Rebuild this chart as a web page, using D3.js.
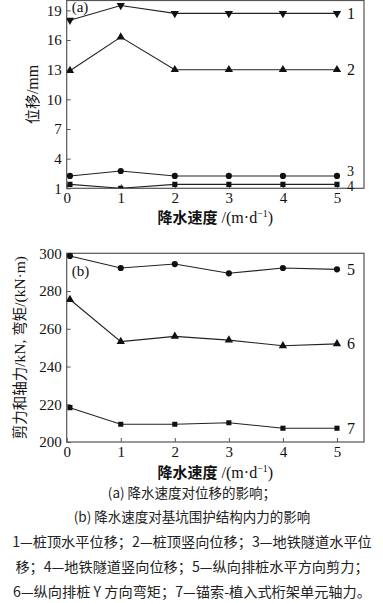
<!DOCTYPE html>
<html><head><meta charset="utf-8">
<script src="https://cdn.jsdelivr.net/npm/d3@7"></script>
<style>
body{margin:0;background:#fff;}
svg{display:block;}
</style></head>
<body><svg id="c" width="383" height="603"></svg>
<script>
// ---- data ----
const speeds = [0.06, 1, 2, 3, 4, 5];
const xTicks = [0, 1, 2, 3, 4, 5];
const yTicksA = [1, 4, 7, 10, 13, 16, 19];
const yTicksB = [200, 220, 240, 260, 280, 300];
const s1 = [18.0, 19.5, 18.7, 18.7, 18.7, 18.7];
const s2 = [12.9, 16.3, 13.0, 13.0, 13.0, 13.0];
const s3 = [2.25, 2.75, 2.25, 2.25, 2.25, 2.25];
const s4 = [1.4, 1.0, 1.4, 1.4, 1.4, 1.4];
const s5 = [298.6, 292.2, 294.3, 289.4, 292.2, 291.5];
const s6 = [275.5, 253.2, 256.0, 254.0, 251.0, 252.0];
const s7 = [218.2, 209.4, 209.4, 210.2, 207.3, 207.3];
const seriesA = [
  {id: "1", values: s1, marker: "down"},
  {id: "2", values: s2, marker: "up"},
  {id: "3", values: s3, marker: "circle"},
  {id: "4", values: s4, marker: "square"}
];
const seriesB = [
  {id: "5", values: s5, marker: "circle"},
  {id: "6", values: s6, marker: "up"},
  {id: "7", values: s7, marker: "square"}
];
const xTitleMain = "降水速度";
const yTitleA = [["位移", "cjk"], ["/mm", "serif"]];
const yTitleB = [["剪力和轴力", "cjk"], ["/kN, ", "serif"], ["弯矩", "cjk"], ["/(kN·m)", "serif"]];
const captions = [
  "(a)  降水速度对位移的影响；",
  "(b)  降水速度对基坑围护结构内力的影响",
  "1—桩顶水平位移；2—桩顶竖向位移；3—地铁隧道水平位",
  "移；4—地铁隧道竖向位移；5—纵向排桩水平方向剪力；",
  "6—纵向排桩 Y 方向弯矩；7—锚索-植入式桁架单元轴力。"
];

// ---- drawing ----
const svg = d3.select("#c");
const serif = "'Liberation Serif','DejaVu Serif',serif";
const cjk = "'Noto Sans CJK SC','Noto Sans',sans-serif";
const lineCol = "#222";

function markerPath(type) {
  if (type === "circle") return d3.symbol(d3.symbolCircle, 30)();
  if (type === "square") return d3.symbol(d3.symbolSquare, 26)();
  return d3.symbol(d3.symbolTriangle, 30)();
}

function panel(opt) {
  const {top, bottom, domain, yTicks, series, tag, ytitle, ytitleX, xtitleY, xtickY} = opt;
  const left = 66.7, right = 364;
  const x = d3.scaleLinear().domain([0, 5.5]).range([left, right]);
  const y = d3.scaleLinear().domain(domain).range([bottom, top]);
  const g = svg.append("g");

  g.append("rect").attr("x", left).attr("y", top).attr("width", right - left).attr("height", bottom - top)
    .attr("fill", "none").attr("stroke", "#555").attr("stroke-width", 1.2);

  const xa = g.append("g").attr("transform", `translate(0,${bottom})`)
    .call(d3.axisBottom(x).tickValues(xTicks).tickSize(-4).tickPadding(4).tickFormat(d3.format("d")));
  xa.select(".domain").remove();
  xa.selectAll("line").attr("stroke", "#555");
  xa.selectAll("text").attr("font-family", serif).attr("font-size", 15).attr("fill", "#111")
    .attr("y", xtickY - bottom).attr("dy", "0.35em");

  const ya = g.append("g").attr("transform", `translate(${left},0)`)
    .call(d3.axisLeft(y).tickValues(yTicks).tickSize(-4).tickPadding(5).tickFormat(d3.format("d")));
  ya.select(".domain").remove();
  ya.selectAll("line").attr("stroke", "#555");
  ya.selectAll("text").attr("font-family", serif).attr("font-size", 15).attr("fill", "#111");

  const line = d3.line().x((d, i) => x(speeds[i])).y(d => y(d));
  const clipId = "clip" + tag.replace(/\W/g, "");
  g.append("clipPath").attr("id", clipId).append("rect")
    .attr("x", left).attr("y", top - 1).attr("width", right - left).attr("height", bottom - top + 1);
  series.forEach(s => {
    const sg = g.append("g").attr("clip-path", `url(#${clipId})`);
    sg.append("path").attr("d", line(s.values)).attr("fill", "none")
      .attr("stroke", lineCol).attr("stroke-width", 1.1);
    sg.selectAll("path.m").data(s.values).join("path").attr("class", "m")
      .attr("d", markerPath(s.marker))
      .attr("transform", (d, i) => `translate(${x(speeds[i])},${y(d)})` + (s.marker === "down" ? " rotate(180)" : ""))
      .attr("fill", "#111");
    const last = s.values[s.values.length - 1];
    g.append("text").attr("x", x(5) + 10).attr("y", y(last) + (s.labelDy || 0)).attr("dy", "0.35em")
      .attr("font-family", serif).attr("font-size", s.labelSize || 16).attr("fill", "#111").text(s.id);
  });

  g.append("text").attr("x", left + 5).attr("y", opt.tagY).attr("dy", "0.35em")
    .attr("font-family", serif).attr("font-size", 15).attr("fill", "#111").text(tag);

  const yt = g.append("text").attr("transform", `translate(${ytitleX},${(top + bottom) / 2}) rotate(-90)`)
    .attr("text-anchor", "middle").attr("dy", "0.35em").attr("fill", "#111");
  ytitle.forEach(([t, f]) => {
    yt.append("tspan").attr("font-family", f === "cjk" ? cjk : serif)
      .attr("font-size", f === "cjk" ? opt.ytitleSize : opt.ytitleSize + 1).text(t);
  });

  const xt = g.append("text").attr("x", (left + right) / 2).attr("y", xtitleY).attr("dy", "0.35em")
    .attr("text-anchor", "middle").attr("fill", "#111");
  xt.append("tspan").attr("font-family", cjk).attr("font-weight", "bold").attr("font-size", 15).text(xTitleMain);
  xt.append("tspan").attr("font-family", serif).attr("font-size", 16).text(" /(m·d");
  xt.append("tspan").attr("font-family", serif).attr("font-size", 10).attr("dy", "-0.55em").text("−1");
  xt.append("tspan").attr("font-family", serif).attr("font-size", 16).attr("dy", "0.35em").text(")");
}

seriesA[2].labelDy = -5; seriesA[2].labelSize = 14;
seriesA[3].labelDy = 1.5; seriesA[3].labelSize = 14;

panel({top: 0.5, bottom: 188.3, domain: [1, 20], yTicks: yTicksA, series: seriesA, tag: "(a)", tagY: 7,
  ytitle: yTitleA, ytitleX: 32, ytitleSize: 15, xtitleY: 217, xtickY: 198});
panel({top: 253.3, bottom: 442, domain: [200, 300], yTicks: yTicksB, series: seriesB, tag: "(b)", tagY: 271,
  ytitle: yTitleB, ytitleX: 19, ytitleSize: 14.5, xtitleY: 472, xtickY: 452});

const capY = [493, 517, 542, 567, 592];
svg.append("g").selectAll("text").data(captions).join("text")
  .attr("x", 192).attr("y", (d, i) => capY[i]).attr("dy", "0.35em").attr("text-anchor", "middle")
  .attr("font-family", cjk).attr("font-size", (d, i) => i < 2 ? 13.5 : 14.2).attr("fill", "#222")
  .text(d => d);
</script>
</body></html>
